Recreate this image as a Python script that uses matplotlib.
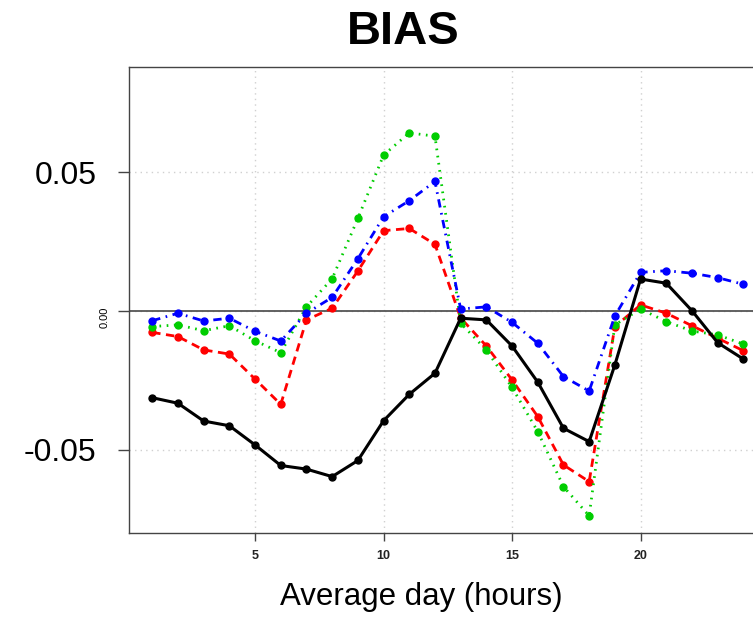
import numpy as np
import matplotlib
matplotlib.use("Agg")
import matplotlib.pyplot as plt

plt.rcParams['font.family'] = ['Liberation Sans', 'DejaVu Sans']

# hours of the average day
hours = np.arange(1, 25)

# bias series
bias_red = [-0.0077, -0.0092, -0.0140, -0.0155, -0.0245, -0.0336, -0.0032, 0.0010,
            0.0144, 0.0289, 0.0297, 0.0240, -0.0025, -0.0126, -0.0248, -0.0380,
            -0.0554, -0.0614, -0.0056, 0.0022, -0.0008, -0.0053, -0.0098, -0.0143]
bias_green = [-0.0056, -0.0050, -0.0071, -0.0053, -0.0107, -0.0150, 0.0015, 0.0116,
              0.0333, 0.0561, 0.0641, 0.0629, -0.0044, -0.0140, -0.0275, -0.0434,
              -0.0632, -0.0737, -0.0050, 0.0007, -0.0038, -0.0072, -0.0086, -0.0119]
bias_blue = [-0.0035, -0.0008, -0.0036, -0.0026, -0.0073, -0.0108, -0.0008, 0.0049,
             0.0188, 0.0339, 0.0397, 0.0466, 0.0007, 0.0015, -0.0041, -0.0116,
             -0.0236, -0.0288, -0.0018, 0.0139, 0.0145, 0.0136, 0.0120, 0.0096]
bias_black = [-0.0312, -0.0332, -0.0396, -0.0413, -0.0482, -0.0556, -0.0569, -0.0596,
              -0.0538, -0.0395, -0.0300, -0.0224, -0.0026, -0.0032, -0.0126, -0.0256,
              -0.0422, -0.0470, -0.0194, 0.0115, 0.0100, 0.0001, -0.0114, -0.0173]

xticks = [5, 10, 15, 20]
yticks = [-0.05, 0.0, 0.05]
ytick_labels = ['-0.05', '0.00', '0.05']

fig = plt.figure(figsize=(7.53, 6.17), dpi=100)
# the plot box runs past the right edge of the picture, as in the reference
ax = fig.add_axes([0.1708, 0.1361, 0.8478, 0.7553])

ax.grid(True, color='#d0d0d0', linestyle=(0, (1, 3)), linewidth=1)
ax.axhline(0, color='#555555', linewidth=1.3, zorder=2)

ax.plot(hours, bias_red, color='#ff0000', linewidth=2, dashes=(3, 2),
        marker='o', markersize=5, zorder=3)
ax.plot(hours, bias_green, color='#00cd00', linewidth=2, dashes=(0.6, 2),
        marker='o', markersize=5, zorder=3)
ax.plot(hours, bias_blue, color='#0000ff', linewidth=2, dashes=(3, 2, 0.6, 2),
        marker='o', markersize=5, zorder=3)
ax.plot(hours, bias_black, color='black', linewidth=2.2,
        marker='o', markersize=5, zorder=4)

ax.set_xlim(0.08, 24.92)
ax.set_ylim(-0.0799, 0.0878)

ax.set_xticks(xticks)
ax.set_xticklabels([str(t) for t in xticks], fontsize=9, fontweight='bold', color='#222222')
ax.tick_params(axis='x', length=6, width=1, pad=6, color='#444444')

ax.set_yticks(yticks)
ax.set_yticklabels(ytick_labels, fontsize=23)
ax.tick_params(axis='y', length=8, width=1, color='#444444')
ylabels = ax.get_yticklabels()
yt = ax.yaxis.get_major_ticks()
for t in yt:
    t.set_pad(15)
ylabels[1].set_fontsize(8)
ylabels[1].set_rotation(90)
yt[1].set_pad(6)

for side in ['left', 'top', 'bottom']:
    ax.spines[side].set_color('#444444')
    ax.spines[side].set_linewidth(1)
ax.spines['right'].set_visible(False)

fig.text(403 / 753, 1 - 32 / 617, 'BIAS', fontsize=34, fontweight='bold',
         ha='center', va='center')
fig.text(421.5 / 753, 1 - 597 / 617, 'Average day (hours)', fontsize=22.5,
         ha='center', va='center')

fig.savefig('out.png', dpi=100)
